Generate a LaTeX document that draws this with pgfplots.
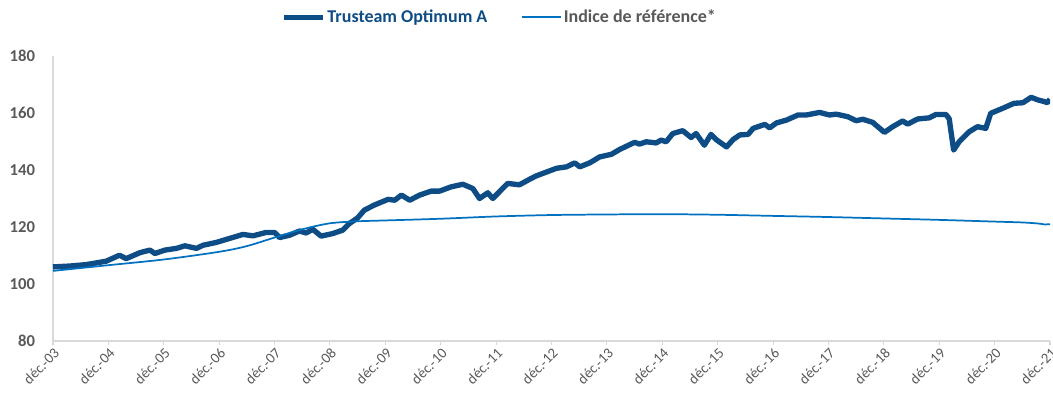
\documentclass[border=0pt]{standalone}
\usepackage{fontspec}
\setmainfont{Carlito}
\usepackage{pgfplots}
\pgfplotsset{compat=1.18}
\definecolor{fund}{RGB}{14,76,133}
\definecolor{idx}{RGB}{0,112,192}
\definecolor{txtgray}{RGB}{89,89,89}
\definecolor{axgray}{RGB}{217,217,217}
\begin{document}
\begin{tikzpicture}
\begin{axis}[
  scale only axis, width=747.75pt, height=213.75pt,
  xmin=0, xmax=18, ymin=80, ymax=180,
  axis x line*=bottom, axis y line*=left,
  axis line style={axgray, line width=0.8pt, -},
  xtick={0,...,18},
  xticklabels={déc.-03,déc.-04,déc.-05,déc.-06,déc.-07,déc.-08,déc.-09,déc.-10,déc.-11,déc.-12,déc.-13,déc.-14,déc.-15,déc.-16,déc.-17,déc.-18,déc.-19,déc.-20,déc.-21},
  ytick={80,100,...,180},
  xtick pos=bottom, ytick pos=left,
  tick align=outside, major tick length=3pt,
  x tick style={axgray, line width=0.8pt},
  y tick style={draw=none},
  x tick label style={rotate=45, anchor=north east, text=txtgray, inner sep=1pt, font=\fontsize{11}{13}\selectfont},
  y tick label style={font=\fontsize{12.5}{15}\selectfont\bfseries, text=txtgray, xshift=-7pt},
  /pgf/number format/assume math mode=true,
  legend columns=2,
  legend cell align=left,
  legend style={draw=none, fill=none, at={(0.448,1)}, anchor=center, yshift=29pt,
    font=\fontsize{13.5}{16}\selectfont\bfseries,
    nodes={inner xsep=1.5pt},
    /tikz/every even column/.append style={column sep=24pt}},
  legend image code/.code={\draw[#1] (0pt,0pt) -- (29pt,0pt);},
]
\coordinate (sw) at (rel axis cs:0,0);
\coordinate (ne) at (rel axis cs:1,1);
\addplot[fund, line width=4pt, line join=round] coordinates {
(0,106.0)(0.3,106.3)(0.6,106.8)(0.96,108.0)(1.2,110.1)(1.32,108.9)(1.57,111.0)(1.75,111.9)(1.84,110.7)(2.02,111.9)
(2.23,112.5)(2.38,113.4)(2.59,112.5)(2.71,113.6)(2.95,114.6)(3.19,116.0)(3.43,117.4)(3.61,116.9)(3.85,118.1)(4.0,118.1)
(4.09,116.3)(4.27,117.1)(4.45,118.6)(4.57,117.9)(4.69,119.2)(4.84,116.8)(5.05,117.7)(5.23,118.9)(5.35,121.2)(5.5,123.2)
(5.62,125.9)(5.8,127.7)(6.05,129.7)(6.17,129.4)(6.29,131.2)(6.44,129.4)(6.62,131.2)(6.83,132.6)(6.98,132.6)(7.19,134.1)
(7.4,135.0)(7.58,133.5)(7.7,130.0)(7.85,132.0)(7.94,130.0)(8.21,135.3)(8.42,134.8)(8.6,136.7)(8.72,137.9)(9.09,140.6)
(9.27,141.1)(9.42,142.5)(9.51,141.1)(9.69,142.5)(9.87,144.6)(10.08,145.5)(10.23,147.2)(10.5,149.7)(10.59,149.1)(10.71,149.9)
(10.89,149.5)(10.98,150.5)(11.07,149.9)(11.19,152.8)(11.37,153.8)(11.52,151.4)(11.61,152.8)(11.76,148.7)(11.88,152.5)(11.97,150.7)
(12.16,148.1)(12.28,150.7)(12.4,152.3)(12.55,152.5)(12.64,154.6)(12.85,156.0)(12.94,154.8)(13.06,156.5)(13.24,157.5)(13.45,159.3)
(13.6,159.3)(13.84,160.2)(14.02,159.3)(14.14,159.6)(14.35,158.7)(14.5,157.3)(14.62,157.8)(14.8,156.7)(15.01,153.2)(15.16,155.2)
(15.34,157.2)(15.43,156.1)(15.61,157.9)(15.82,158.3)(15.94,159.5)(16.12,159.5)(16.18,158.0)(16.26,147.0)(16.36,149.9)(16.54,153.4)
(16.69,155.2)(16.84,154.6)(16.93,159.9)(17.14,161.6)(17.35,163.4)(17.51,163.6)(17.66,165.5)(17.78,164.6)(17.9,164.0)(17.95,163.6)(18.0,164.8)
};
\addlegendentry{\textcolor{fund}{Trusteam Optimum A}}
\addplot[idx, line width=1.3pt, smooth] coordinates {
(0,104.6)(1,106.6)(2,108.6)(3,111.3)(3.5,113.3)(4,116.3)(4.5,119.2)(5,121.3)(5.5,122.0)(6,122.3)
(7,122.9)(8,123.7)(9,124.2)(10,124.4)(11,124.5)(12,124.3)(13,123.9)(14,123.5)(15,123.0)(16,122.5)
(17,121.9)(17.5,121.6)(17.8,121.2)(17.9,120.9)(18,121.0)
};
\addlegendentry{\textcolor{txtgray}{Indice de référence*}}
\end{axis}
\pgfresetboundingbox
\path[use as bounding box] ([xshift=-39.75pt,yshift=-45pt]sw) rectangle ([xshift=2.25pt,yshift=42pt]ne);
\end{tikzpicture}
\end{document}
